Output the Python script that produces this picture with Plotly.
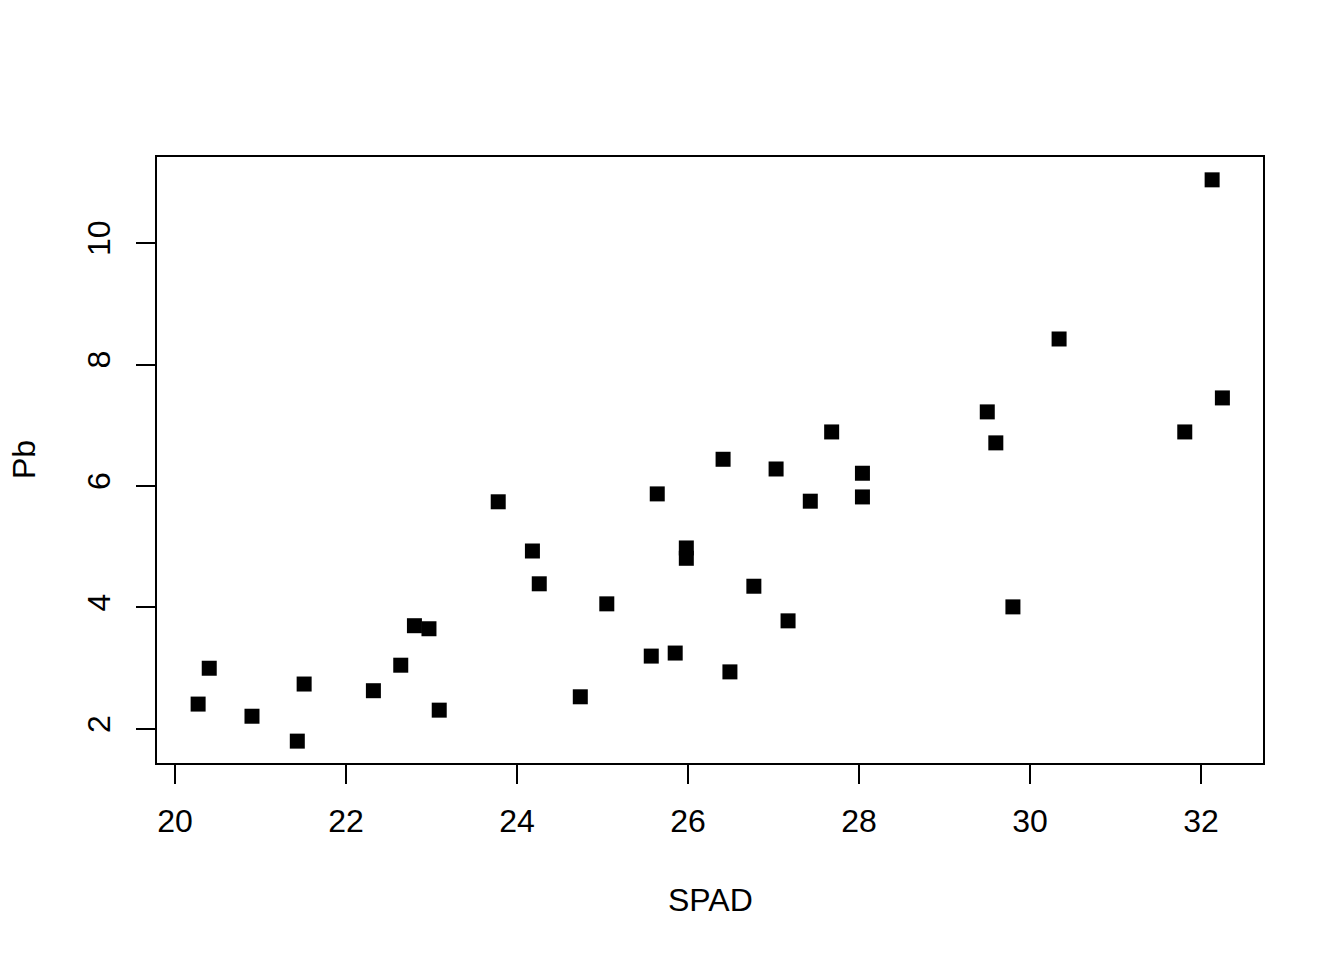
import plotly.graph_objects as go

spad = [20.27, 20.40, 20.90, 21.43, 21.51, 22.32, 22.64, 22.80, 22.97, 23.09,
        23.78, 24.18, 24.26, 24.74, 25.05, 25.57, 25.64, 25.85, 25.98, 25.98,
        26.41, 26.49, 26.77, 27.03, 27.17, 27.43, 27.68, 28.04, 28.04, 29.50,
        29.60, 29.80, 30.34, 31.81, 32.13, 32.25]
pb = [2.41, 3.00, 2.21, 1.80, 2.74, 2.63, 3.05, 3.70, 3.65, 2.31,
      5.74, 4.93, 4.39, 2.53, 4.06, 3.20, 5.87, 3.25, 4.98, 4.81,
      6.44, 2.94, 4.35, 6.28, 3.78, 5.75, 6.89, 6.21, 5.82, 7.22,
      6.71, 4.01, 8.42, 6.89, 11.04, 7.45]

x_ticks = [20, 22, 24, 26, 28, 30, 32]
y_ticks = [2, 4, 6, 8, 10]

font = "Liberation Sans, Arial, sans-serif"
fs = 32

fig = go.Figure()
fig.add_trace(go.Scatter(
    x=spad, y=pb, mode="markers",
    marker=dict(symbol="square", size=15, color="black", line=dict(width=0)),
    hoverinfo="x+y",
))

fig.update_layout(
    width=1344, height=960,
    margin=dict(l=149, r=89, t=149, b=205),
    paper_bgcolor="white", plot_bgcolor="white",
    showlegend=False,
    font=dict(family=font, size=fs, color="black"),
    xaxis=dict(
        range=[19.789, 32.725], tickvals=x_ticks, ticktext=[str(v) for v in x_ticks],
        showgrid=False, zeroline=False, showline=True, mirror=True,
        linecolor="black", linewidth=2, ticks="outside", ticklen=19,
        tickwidth=2, tickcolor="black", ticklabelstandoff=10,
        tickfont=dict(family=font, size=fs, color="black"),
    ),
    yaxis=dict(
        range=[1.44, 11.416], tickvals=y_ticks, ticktext=[str(v) for v in y_ticks],
        showgrid=False, zeroline=False, showline=True, mirror=True,
        linecolor="black", linewidth=2, ticks="outside", ticklen=19,
        tickwidth=2, tickcolor="black", tickangle=-90, ticklabelstandoff=13,
        tickfont=dict(family=font, size=fs, color="black"),
    ),
    annotations=[
        dict(text="SPAD", xref="paper", yref="paper", x=0.5, y=0, yshift=-137,
             xanchor="center", yanchor="middle", showarrow=False,
             font=dict(family=font, size=fs, color="black")),
        dict(text="Pb", xref="paper", yref="paper", x=0, y=0.5, xshift=-133,
             xanchor="center", yanchor="middle", textangle=-90, showarrow=False,
             font=dict(family=font, size=fs, color="black")),
    ],
)

fig.write_html("out.html")
